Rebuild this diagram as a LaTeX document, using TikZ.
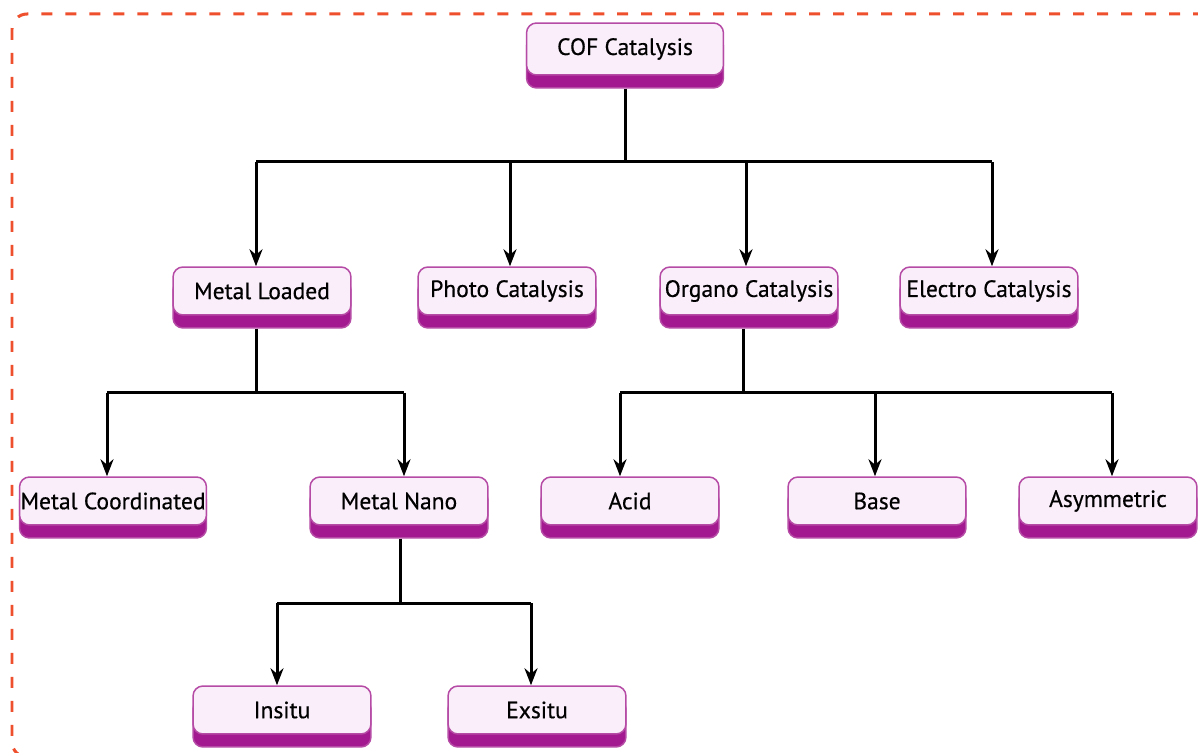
\documentclass[tikz,border=0pt]{standalone}
\usepackage{fontspec}
\setmainfont{PT Sans}
\newfontfamily\boxfont{PT Sans}[FakeBold=0.5]
\usepackage{tikz}
\usetikzlibrary{arrows.meta,shadows}

\definecolor{boxfill}{HTML}{F9EEF9}
\definecolor{boxline}{HTML}{B64BA6}
\definecolor{boxbase}{HTML}{A3198F}
\definecolor{frameline}{HTML}{EE4F2C}

\begin{document}
\begin{tikzpicture}[x=0.02cm, y=-0.02cm,
			catbox/.style={draw=boxline, fill=boxfill, rounded corners=2mm, minimum width=3.56cm, minimum height=0.96cm, line width = 0.3mm, inner sep=0.5pt, font=\boxfont\fontsize{13.4}{16}\selectfont, general shadow={fill=boxbase, draw=boxline, shadow yshift=-0.26cm}},
			link/.style={line width = 0.6mm},
			>={Stealth[length=3.4mm,width=2.6mm]}
		]
		\useasboundingbox (0,0) rectangle (1198,753);
		\draw[frameline, line width = 0.6mm, dash pattern=on 2.2mm off 2.6mm, rounded corners=3mm] (12,14) rectangle (1214,757);

		% top
		\node[catbox, minimum width=3.94cm, minimum height=1.04cm] (cof) at (625,49) {COF Catalysis};

		% second row
		\node[catbox] (ml) at (262,291) {Metal Loaded};
		\node[catbox] (pc) at (507,291) {Photo Catalysis};
		\node[catbox] (oc) at (749,291) {Organo Catalysis};
		\node[catbox] (ec) at (989,291) {Electro Catalysis};

		% third row
		\node[catbox, minimum width=3.74cm] (mc) at (113,501) {Metal Coordinated};
		\node[catbox] (mn) at (399,501) {Metal Nano};
		\node[catbox] (acid) at (630,501) {Acid};
		\node[catbox] (base) at (877,501) {Base};
		\node[catbox] (asym) at (1108,501) {Asymmetric};

		% fourth row
		\node[catbox] (insitu) at (282,710) {Insitu};
		\node[catbox] (exsitu) at (537,710) {Exsitu};

		% junctions
		\coordinate (j1) at (625,162);
		\coordinate (j2) at (256,393);
		\coordinate (j3) at (743,393);
		\coordinate (j4) at (400,603);

		\draw[link] ([yshift=-0.26cm]cof.south) -- (j1);
		\draw[link] ([xshift=-0.12cm]ml.north |- j1) -- ([xshift=0.06cm]ec.north |- j1);
		\draw[link,->] ([xshift=-0.12cm]ml.north |- j1) -- ([xshift=-0.12cm]ml.north);
		\draw[link,->] ([xshift=0.06cm]pc.north |- j1) -- ([xshift=0.06cm]pc.north);
		\draw[link,->] ([xshift=-0.06cm]oc.north |- j1) -- ([xshift=-0.06cm]oc.north);
		\draw[link,->] ([xshift=0.06cm]ec.north |- j1) -- ([xshift=0.06cm]ec.north);

		\draw[link] ([yshift=-0.26cm]ml.south -| j2) -- (j2);
		\draw[link] ([xshift=-0.12cm]mc.north |- j2) -- ([xshift=0.1cm]mn.north |- j2);
		\draw[link,->] ([xshift=-0.12cm]mc.north |- j2) -- ([xshift=-0.12cm]mc.north);
		\draw[link,->] ([xshift=0.1cm]mn.north |- j2) -- ([xshift=0.1cm]mn.north);

		\draw[link] ([yshift=-0.26cm]oc.south -| j3) -- (j3);
		\draw[link] ([xshift=-0.2cm]acid.north |- j3) -- ([xshift=0.08cm]asym.north |- j3);
		\draw[link,->] ([xshift=-0.2cm]acid.north |- j3) -- ([xshift=-0.2cm]acid.north);
		\draw[link,->] ([xshift=-0.04cm]base.north |- j3) -- ([xshift=-0.04cm]base.north);
		\draw[link,->] ([xshift=0.08cm]asym.north |- j3) -- ([xshift=0.08cm]asym.north);

		\draw[link] ([yshift=-0.26cm]mn.south -| j4) -- (j4);
		\draw[link] ([xshift=-0.1cm]insitu.north |- j4) -- ([xshift=-0.12cm]exsitu.north |- j4);
		\draw[link,->] ([xshift=-0.1cm]insitu.north |- j4) -- ([xshift=-0.1cm]insitu.north);
		\draw[link,->] ([xshift=-0.12cm]exsitu.north |- j4) -- ([xshift=-0.12cm]exsitu.north);

	\end{tikzpicture}
\end{document}
